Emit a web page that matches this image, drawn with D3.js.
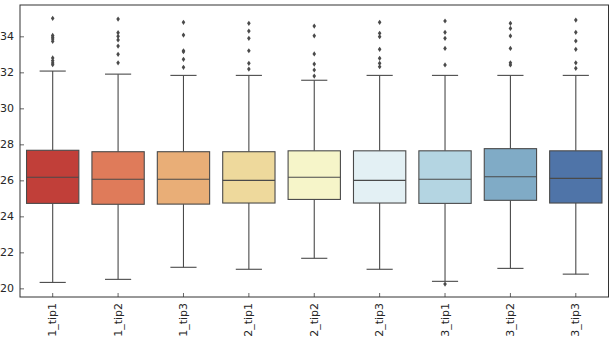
<!DOCTYPE html>
<html><head><meta charset="utf-8">
<script src="https://cdn.jsdelivr.net/npm/d3@7/dist/d3.min.js"></script>
<style>body{margin:0;background:#fff}svg{display:block}text{font-family:"DejaVu Sans",sans-serif}</style>
</head><body><svg id="c" width="615" height="350"></svg>
<script>
const categories = ["1_tip1","1_tip2","1_tip3","2_tip1","2_tip2","2_tip3","3_tip1","3_tip2","3_tip3"];
const q1 =      [24.72, 24.67, 24.68, 24.74, 24.94, 24.74, 24.72, 24.89, 24.74];
const median =  [26.17, 26.06, 26.06, 26.00, 26.17, 26.00, 26.06, 26.20, 26.11];
const q3 =      [27.67, 27.59, 27.59, 27.59, 27.64, 27.64, 27.64, 27.76, 27.64];
const whiskLo = [20.33, 20.50, 21.17, 21.06, 21.67, 21.06, 20.39, 21.11, 20.79];
const whiskHi = [32.07, 31.90, 31.83, 31.83, 31.56, 31.83, 31.83, 31.83, 31.83];
const outliers = [
  [35.00, 34.05, 33.95, 33.85, 33.72, 32.80, 32.65, 32.52, 32.42],
  [34.96, 34.20, 34.00, 33.80, 33.46, 33.00, 32.53],
  [34.78, 34.07, 33.20, 33.15, 32.72, 32.28],
  [34.72, 34.29, 33.89, 33.20, 32.50, 32.18],
  [34.57, 34.03, 33.02, 32.46, 32.13, 31.79],
  [34.78, 34.17, 33.98, 33.28, 32.78, 32.50, 32.31],
  [34.85, 34.22, 33.89, 33.33, 32.41, 20.24],
  [34.72, 34.44, 34.02, 33.33, 32.53, 32.41],
  [34.90, 34.22, 33.74, 33.28, 32.53, 32.22]
];
const colors = ["#c13f39","#df7b5a","#e9ae77","#eed99c","#f6f5c9","#e3f0f4","#b4d5e2","#80abc6","#4f74a8"];
const yTicks = [20,22,24,26,28,30,32,34];

const svg = d3.select("#c");
const L = 20, R = 608.5, T = 5, B = 297;
const x = d3.scaleBand().domain(categories).range([L, R]).padding(0);
const y = d3.scaleLinear().domain([19.52, 35.74]).range([B, T]);
const lineCol = "#4a4a4a";
const bw = x.bandwidth() * 0.8;

const g = svg.append("g");
categories.forEach((c, i) => {
  const cx = x(c) + x.bandwidth() / 2;
  // whiskers
  g.append("line").attr("x1", cx).attr("x2", cx).attr("y1", y(q3[i])).attr("y2", y(whiskHi[i])).attr("stroke", lineCol).attr("stroke-width", 1.1);
  g.append("line").attr("x1", cx).attr("x2", cx).attr("y1", y(q1[i])).attr("y2", y(whiskLo[i])).attr("stroke", lineCol).attr("stroke-width", 1.1);
  // caps
  [whiskHi[i], whiskLo[i]].forEach(v => {
    g.append("line").attr("x1", cx - bw / 4).attr("x2", cx + bw / 4).attr("y1", y(v)).attr("y2", y(v)).attr("stroke", lineCol).attr("stroke-width", 1.1);
  });
  // box
  g.append("rect").attr("x", cx - bw / 2).attr("width", bw).attr("y", y(q3[i])).attr("height", y(q1[i]) - y(q3[i]))
    .attr("fill", colors[i]).attr("stroke", lineCol).attr("stroke-width", 1.1);
  // median
  g.append("line").attr("x1", cx - bw / 2).attr("x2", cx + bw / 2).attr("y1", y(median[i])).attr("y2", y(median[i])).attr("stroke", lineCol).attr("stroke-width", 1.1);
  // outliers
  outliers[i].forEach(v => {
    const py = y(v);
    g.append("path").attr("d", `M${cx},${py - 2.6}L${cx + 1.8},${py}L${cx},${py + 2.6}L${cx - 1.8},${py}Z`).attr("fill", "#4a4a4a");
  });
});

// axes
const yAxis = d3.axisLeft(y).tickValues(yTicks).tickSize(-4).tickPadding(6).tickFormat(d3.format("d"));
const ya = svg.append("g").attr("transform", `translate(${L},0)`).call(yAxis);
ya.select(".domain").remove();
ya.selectAll(".tick line").attr("stroke", "#666");
ya.selectAll("text").attr("font-size", 11).attr("fill", "#262626");

const xAxis = d3.axisBottom(x).tickSize(-4).tickPadding(6);
const xa = svg.append("g").attr("transform", `translate(0,${B})`).call(xAxis);
xa.select(".domain").remove();
xa.selectAll(".tick line").attr("stroke", "#666");
xa.selectAll("text").attr("font-size", 11).attr("fill", "#262626")
  .attr("transform", "rotate(-90)").attr("text-anchor", "end").attr("dy", "0.32em").attr("x", -6).attr("y", 0);

// frame
svg.append("rect").attr("x", L).attr("y", T).attr("width", R - L).attr("height", B - T)
  .attr("fill", "none").attr("stroke", "#333").attr("stroke-width", 1);
</script></body></html>
